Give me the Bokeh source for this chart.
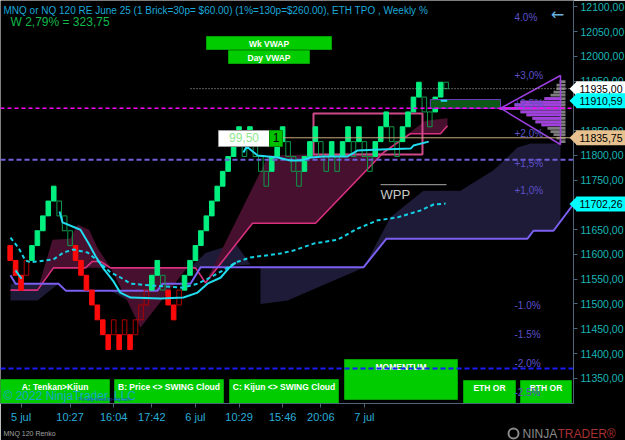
from bokeh.plotting import figure
from bokeh.models import Range1d, FixedTicker, Label, ColumnDataSource, GridBox
from bokeh.core.properties import value
from bokeh.embed import file_html
from bokeh.resources import INLINE

FONT = "Liberation Sans"

# ---------------- data ----------------
# Renko bricks (one per bar): open / close price, type G=up solid, R=down solid, g/r = hollow (ghost)
brick_open = [11618, 11588, 11558, 11558, 11588, 11618, 11648, 11678, 11708, 11708,
              11678, 11648, 11618, 11588, 11558, 11528, 11498, 11468, 11438, 11438,
              11438, 11438, 11438, 11438, 11468, 11498, 11528, 11558, 11558, 11528,
              11498, 11498, 11528, 11558, 11588, 11618, 11648, 11678, 11708, 11738,
              11768, 11798, 11828, 11828, 11828, 11828, 11798, 11768, 11768, 11798,
              11828, 11828, 11798, 11768, 11768, 11798, 11828, 11828, 11798, 11798,
              11798, 11798, 11828, 11828, 11828, 11828, 11798, 11798, 11828, 11858,
              11858, 11828, 11828, 11858, 11888, 11918, 11918, 11888, 11888, 11918,
              11948]
brick_close = [11588, 11558, 11528, 11588, 11618, 11648, 11678, 11708, 11738, 11678,
               11648, 11618, 11588, 11558, 11528, 11498, 11468, 11438, 11408, 11468,
               11408, 11468, 11408, 11468, 11498, 11528, 11558, 11588, 11528, 11498,
               11468, 11528, 11558, 11588, 11618, 11648, 11678, 11708, 11738, 11768,
               11798, 11828, 11858, 11798, 11858, 11798, 11768, 11738, 11798, 11828,
               11858, 11798, 11768, 11738, 11798, 11828, 11858, 11798, 11768, 11828,
               11768, 11828, 11858, 11798, 11858, 11798, 11768, 11828, 11858, 11888,
               11828, 11798, 11858, 11888, 11918, 11948, 11888, 11858, 11918, 11948,
               11935]
brick_type = ["R", "R", "R", "r", "G", "G", "G", "G", "G", "g",
              "g", "g", "R", "R", "R", "R", "R", "R", "R", "r",
              "R", "r", "R", "r", "r", "r", "G", "G", "g", "R",
              "R", "r", "G", "G", "G", "G", "G", "G", "G", "G",
              "G", "G", "G", "g", "G", "g", "g", "g", "G", "G",
              "G", "g", "g", "g", "G", "G", "G", "g", "g", "G",
              "g", "G", "G", "g", "G", "g", "g", "G", "G", "G",
              "g", "g", "G", "G", "G", "G", "g", "g", "G", "G",
              "g"]

x_tick_pos = [2, 11, 19, 26, 34, 42, 50, 57, 65]
x_tick_labels = ["5 jul", "10:27", "16:04", "17:42", "6 jul", "10:29", "15:46", "20:06", "7 jul"]
price_ticks = list(range(11350, 12101, 50))

# VWAP lines
vwap_a_x = [1.0, 2.1]
vwap_a_y = [11568, 11551]
vwap_b_x = [9.07, 9.6, 12.9, 14.4, 15.7, 17.1, 19.0, 20.2, 22.1, 27.6, 31.8, 34.4, 36.2, 38.6, 40.1, 41.4]
vwap_b_y = [11687, 11665, 11650, 11622, 11596, 11572, 11545, 11523, 11513, 11511, 11513, 11523, 11541, 11553, 11572, 11584]
vwap_c_x = [42.8, 43.4, 45.4, 49.1, 51.4, 53.3, 55.1, 57.5, 61.9, 63.7, 68.0, 73.5, 74.0, 76.8]
vwap_c_y = [11806, 11818, 11800, 11796, 11790, 11790, 11796, 11798, 11798, 11810, 11812, 11814, 11820, 11828]
vwap_now_x = [79.0, 80.2]
vwap_now_y = [11910.59, 11910.59]
wk_vwap_x = [0.06, 1.5, 2.8, 3.7, 7.95, 9.8, 11.6, 14.2, 16.0, 18.4, 20.2, 22.1, 26.3, 31.6, 34.4,
             36.8, 39.1, 41.4, 44.1, 49.6, 52.0, 55.7, 60.1, 63.7, 67.4, 71.1, 75.3, 77.7, 79.9]
wk_vwap_y = [11634, 11614, 11588, 11584, 11590, 11604, 11610, 11604, 11588, 11564, 11554, 11541, 11537, 11533, 11541,
             11554, 11568, 11584, 11594, 11602, 11608, 11622, 11630, 11652, 11669, 11675, 11689, 11701, 11703]

# Kijun (purple) and Senkou A (pink)
kijun_x = [0.06, 0.98, 8.87, 10.2, 27.04, 27.95, 33.09, 34.93, 64.83, 69.05, 94.93, 96.03, 99.7, 103.37]
kijun_y = [11558, 11541, 11541, 11527, 11527, 11541, 11541, 11574, 11574, 11632, 11632, 11648, 11648, 11702]
senkou_x = [0.06, 5.02, 7.95, 13.83, 15.11, 16.58, 18.41, 34.01, 35.85, 44.47, 56.03, 68.5, 73.46, 78.96, 80.25]
senkou_y = [11528, 11528, 11573, 11573, 11586, 11586, 11573, 11573, 11543, 11663, 11663, 11806, 11844, 11844, 11860]

# clouds
magenta_cloud_x = [[5.02, 7.77, 11.0, 12.4, 14.5, 16.0, 18.41, 13.83, 7.95],
                   [18.41, 21.2, 23.9, 28.0, 32.5],
                   [35.85, 47.4, 68.5, 56.03, 44.47],
                   [68.5, 76.2, 80.25, 80.25, 78.96, 73.46]]
magenta_cloud_y = [[11528, 11630, 11632, 11660, 11650, 11614, 11573, 11573, 11573],
                   [11573, 11513, 11452, 11510, 11573],
                   [11543, 11800, 11806, 11663, 11663],
                   [11806, 11870, 11875, 11860, 11844, 11844]]
navy_cloud_x = [[0.06, 8.87, 5.02, 0.06],
                [18.41, 27.04, 23.92],
                [32.54, 35.85, 41.35, 44.1, 34.93],
                [45.94, 64.83, 50.9, 45.94],
                [64.83, 69.05, 94.93, 96.03, 99.7, 100.98, 100.98, 95.48, 93.09, 88.69, 82.63, 75.83, 69.79]]
navy_cloud_y = [[11541, 11541, 11507, 11507],
                [11527, 11527, 11493],
                [11568, 11603, 11622, 11580, 11573],
                [11573, 11573, 11507, 11500],
                [11573, 11632, 11632, 11648, 11648, 11666, 11824, 11824, 11816, 11770, 11729, 11729, 11675]]

# initial balance box
ib_left, ib_right, ib_low, ib_high = 55.66, 75.66, 11802, 11885

# TPO profile
tpo_price = [11949, 11942, 11935, 11928, 11922, 11915, 11908, 11902, 11895, 11888,
             11882, 11875, 11868, 11862, 11855, 11848, 11842, 11835, 11828]
tpo_count = [2, 3, 3, 4, 5, 7, 15, 17, 22, 15, 13, 11, 10, 8, 6, 5, 4, 3, 2]
tpo_in_va = [0, 0, 0, 0, 0, 1, 1, 1, 1, 1, 1, 1, 1, 1, 0, 0, 0, 0, 0]
tpo_anchor = 101.9
tri_x = [89.97, 100.98, 100.98]
tri_y = [11895.5, 11961.6, 11822.2]
vah_box = (77.1, 89.97, 11895.5, 11913)

# levels
pct_labels = ["4.0%", "+3,0%", "+2,5%", "+2,0%", "+1,5%", "+1,0%", "-1.0%", "-1.5%", "-2.0%", "-2.5%"]
pct_prices = [12079, 11962, 11905, 11844, 11784, 11729, 11497, 11438, 11380, 11321]
level_poc = 11895.5
level_open = 11791.3
level_low = 11369.7
level_last = 11935.0
level_tan = 11835.75
level_wpp = 11741
price_box_val = [11935.00, 11910.59, 11835.75, 11702.26]
price_box_txt = ["11935,00", "11910,59", "11835,75", "11702,26"]
price_box_bg = ["#ffffff", "#00ffff", "#e6c08e", "#00ffff"]

# ---------------- figure ----------------
XS, XE = -1.77, 103.37
YS, YE = 11299.0, 12113.1
FW, FH = 573.0, 403.0
W, H = 625.0, 440.0


def px_x(px):
    return XS + (XE - XS) * px / FW


def px_y(py):
    return YE - (YE - YS) * py / FH


p = figure(frame_width=int(FW), frame_height=int(FH), x_range=Range1d(XS, XE), y_range=Range1d(YS, YE),
           output_backend="svg", toolbar_location=None, y_axis_location="right",
           min_border_left=0, min_border_top=0, min_border_right=52, min_border_bottom=37,
           background_fill_color="black", border_fill_color="black", outline_line_color=None)
p.grid.visible = False
p.frame_align = False

AXC = "#4d6478"
for ax in (p.xaxis[0], p.yaxis[0]):
    ax.axis_line_color = AXC
    ax.major_tick_line_color = AXC
    ax.minor_tick_line_color = None
    ax.major_tick_in = 0
    ax.major_tick_out = 4
    ax.major_label_text_font = FONT
    ax.major_label_text_font_size = "11px"
    ax.major_label_standoff = 3
p.yaxis.major_label_text_font_size = "10.5px"
p.xaxis.ticker = FixedTicker(ticks=x_tick_pos)
p.xaxis.major_label_overrides = {t: l for t, l in zip(x_tick_pos, x_tick_labels)}
p.xaxis.major_label_text_color = "#2aaed8"
p.yaxis.ticker = FixedTicker(ticks=price_ticks)
p.yaxis.major_label_overrides = {t: ("" if t in (11900, 11700) else f"{t},00") for t in price_ticks}
p.yaxis.major_label_text_color = "#19b5b5"

# clouds
p.patches(xs=navy_cloud_x, ys=navy_cloud_y, fill_color="#1e1b38", line_color=None)
p.patches(xs=magenta_cloud_x, ys=magenta_cloud_y, fill_color="#47102f", line_color=None)
p.line(senkou_x, senkou_y, line_color="#d8307f", line_width=1.6)
p.line(kijun_x, kijun_y, line_color="#7b5ff0", line_width=2)

# IB rectangle
p.quad(left=[ib_left], right=[ib_right], bottom=[ib_low], top=[ib_high],
       fill_color=None, line_color="#d04a8a", line_width=2)

# bricks
solid_col = {"G": "#00f080", "R": "#ff0a0a"}
hollow_col = {"g": "#0d9a4a", "r": "#b00000"}
s = dict(left=[], right=[], top=[], bottom=[], color=[])
h = dict(left=[], right=[], top=[], bottom=[], color=[])
for i, (o, c, t) in enumerate(zip(brick_open, brick_close, brick_type)):
    d = s if t in solid_col else h
    d["left"].append(i - 0.42)
    d["right"].append(i + 0.42)
    d["top"].append(max(o, c))
    d["bottom"].append(min(o, c))
    d["color"].append(solid_col.get(t) or hollow_col.get(t))
p.quad(source=ColumnDataSource(s), left="left", right="right", top="top", bottom="bottom",
       fill_color="color", line_color="color")
p.quad(source=ColumnDataSource(h), left="left", right="right", top="top", bottom="bottom",
       fill_color=None, line_color="color", line_width=1)

# TPO profile
row_h = 5.6
unit = 0.55
gl = [tpo_anchor - c * unit for c in tpo_count]
p.hbar(y=tpo_price, left=gl, right=[tpo_anchor] * len(tpo_price), height=row_h,
       fill_color="#7d7d7d", line_color=None)
va_y = [y for y, v in zip(tpo_price, tpo_in_va) if v]
va_l = [l for l, v in zip(gl, tpo_in_va) if v]
p.hbar(y=va_y, left=va_l, right=[tpo_anchor - 1.0] * len(va_y), height=row_h,
       fill_color="#a23fe0", line_color=None)
p.patch(tri_x, tri_y, fill_color=None, line_color="#9b3fe0", line_width=1.5)
p.quad(left=[vah_box[0]], right=[vah_box[1]], bottom=[vah_box[2]], top=[vah_box[3]],
       fill_color="#0b5a16", line_color="#6a3fc0", line_width=1)

# buttons (boxes drawn below the level lines, as in the reference)
btn_fill, btn_line = "#00cc00", "#00a000"
buttons = [("A: Tenkan>Kijun", 0, 109, 379, 403), ("B: Price <> SWING Cloud", 114, 223, 379, 403),
           ("C: Kijun <> SWING Cloud", 229, 338, 379, 403), ("MOMENTUM", 344, 457, 359, 399),
           ("ETH OR", 463, 515, 380, 403), ("RTH OR", 520, 571, 380, 403),
           ("Wk VWAP", 206, 331, 36, 49), ("Day VWAP", 228, 309, 50, 63)]
p.quad(left=[px_x(b[1]) for b in buttons], right=[px_x(b[2]) for b in buttons],
       top=[px_y(b[3]) for b in buttons], bottom=[px_y(b[4]) for b in buttons],
       fill_color=btn_fill, line_color=btn_line)
p.text(x=[px_x((b[1] + b[2]) / 2) for b in buttons], y=[px_y(b[3] + 2) for b in buttons],
       text=[b[0] for b in buttons], text_font=value(FONT), text_font_size="8.5px",
       text_font_style="bold", text_color="white", text_align="center", text_baseline="top")

# horizontal levels
p.line([XS, XE], [level_poc] * 2, line_color="#ff00ff", line_width=1.6, line_dash="4 3")
p.line([XS, XE], [level_open] * 2, line_color="#6f5fd8", line_width=2, line_dash="5 3")
p.line([XS, XE], [level_low] * 2, line_color="#1a1aff", line_width=2, line_dash="5 3")
p.line([px_x(190), XE], [level_last] * 2, line_color="#bbbbbb", line_width=1, line_dash="1 2")
p.line([px_x(282), XE], [level_tan] * 2, line_color="#c8aa80", line_width=1)
p.line([px_x(380), px_x(446)], [level_wpp] * 2, line_color="#aaaaaa", line_width=1)

# VWAP lines
p.line(wk_vwap_x, wk_vwap_y, line_color="#14d2e6", line_width=2, line_dash="4 3")
for xs, ys in ((vwap_a_x, vwap_a_y), (vwap_b_x, vwap_b_y), (vwap_c_x, vwap_c_y), (vwap_now_x, vwap_now_y)):
    p.line(xs, ys, line_color="#22dcf0", line_width=2)

# percentage labels
p.text(x=[px_x(514)] * len(pct_prices), y=pct_prices, text=pct_labels,
       text_font=value(FONT), text_font_size="10px", text_color="#5d50c8",
       text_baseline="middle", text_align="left")

# value box "99,50 | 1"
p.quad(left=[px_x(218), px_x(269)], right=[px_x(269), px_x(282)],
       top=[px_y(130)] * 2, bottom=[px_y(146)] * 2,
       fill_color=["white", "#00c000"], line_color=["#9a9a9a", "#008800"])
p.text(x=[px_x(243.5), px_x(275.5)], y=[level_tan, level_tan], text=["99,50", "1"],
       text_font=value(FONT), text_font_size="12px", text_color=["#90e890", "black"],
       text_align="center", text_baseline="middle")

# WPP
p.text(x=[px_x(380)], y=[level_wpp], y_offset=2, text=["WPP"], text_font=value(FONT),
       text_font_size="13px", text_color="#c8c8c8", text_baseline="top")

# titles
p.add_layout(Label(x=px_x(3), y=px_y(10), text="MNQ or NQ 120 RE June 25 (1 Brick=30p= $60.00) (1%=130p=$260.00), ETH TPO , Weekly %",
                   text_font=FONT, text_font_size="10px", text_color="#1aa8d8", text_baseline="middle"))
p.add_layout(Label(x=px_x(10), y=px_y(21), text="W 2,79% = 323,75", text_font=FONT,
                   text_font_size="12px", text_color="#12b84a", text_baseline="middle"))
p.add_layout(Label(x=px_x(557), y=px_y(14), text="\u2190", text_font="DejaVu Sans",
                   text_font_size="16px", text_color="#6ab0e0", text_align="center", text_baseline="middle"))
p.add_layout(Label(x=px_x(3), y=px_y(395), text="\u00a9 2022 NinjaTrader, LLC", text_font=FONT,
                   text_font_size="12px", text_color="#1aa8c8", text_baseline="middle"))
p.add_layout(Label(x=px_x(78), y=px_y(398), text="Fin-alg   www.fin-alg.com", text_font=FONT,
                   text_font_size="5px", text_color="#2050c0", text_baseline="middle"))

# ---------------- transparent overlay for marks outside the plot frame ----------------
ov = figure(width=int(W), height=int(H), x_range=Range1d(XS, px_x(W)), y_range=Range1d(px_y(H), YE),
            output_backend="svg", toolbar_location=None, x_axis_type=None, y_axis_type=None,
            min_border=0, background_fill_color=None, border_fill_color=None, outline_line_color=None)
ov.frame_align = False

half = 7.5 * (YE - YS) / FH
ov.quad(left=[px_x(576)] * 4, right=[px_x(W)] * 4,
        top=[v + half for v in price_box_val], bottom=[v - half for v in price_box_val],
        fill_color=price_box_bg, line_color=None)
ov.patches(xs=[[px_x(569), px_x(576.5), px_x(576.5)] for _ in price_box_val],
           ys=[[v, v + half, v - half] for v in price_box_val],
           fill_color=price_box_bg, line_color=None)
ov.text(x=[px_x(579)] * 4, y=price_box_val, text=price_box_txt, text_font=value(FONT),
        text_font_size="10.5px", text_color="black", text_baseline="middle", text_align="left")

ov.text(x=[px_x(3)], y=[px_y(433)], text=["MNQ 120 Renko"], text_font=value(FONT),
        text_font_size="7px", text_color="#a0a0a0", text_baseline="middle")
ov.text(x=[px_x(522), px_x(557)], y=[px_y(433)] * 2, text=["NINJA", "TRADER\u00ae"],
        text_font=value(FONT), text_font_size="12px", text_color=["#8a8a8a", "#a83030"],
        text_baseline="middle")
ov.scatter(x=[px_x(513)], y=[px_y(433)], size=10, marker="circle", fill_color=None,
           line_color="#8a8a8a", line_width=2)

layout = GridBox(children=[(p, 0, 0), (ov, 0, 0)])
open("out.html", "w").write(file_html(layout, INLINE))
